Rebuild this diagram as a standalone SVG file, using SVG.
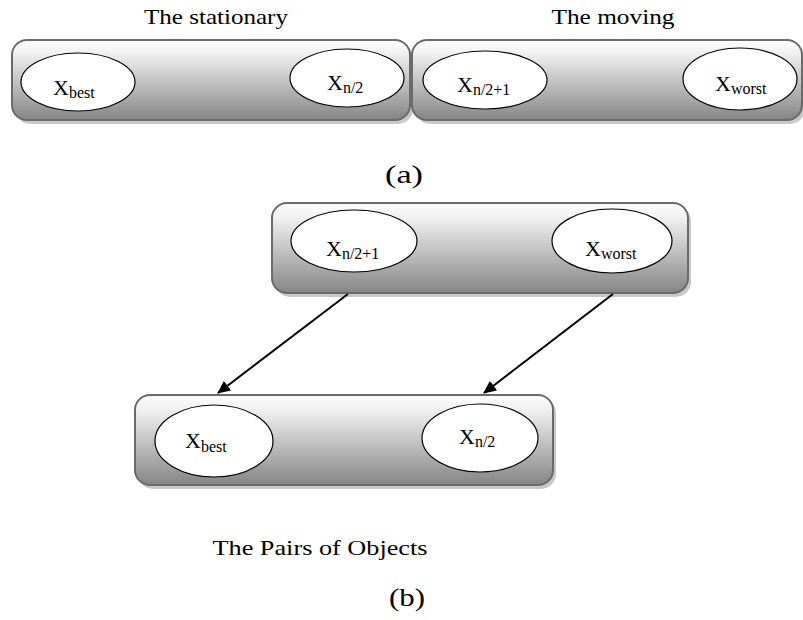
<svg xmlns="http://www.w3.org/2000/svg" width="803" height="620" viewBox="0 0 803 620">
<defs>
<linearGradient id="g" x1="0" y1="0" x2="0" y2="1">
<stop offset="0" stop-color="#fdfdfd"/>
<stop offset="0.15" stop-color="#f2f2f2"/>
<stop offset="1" stop-color="#858585"/>
</linearGradient>
<marker id="ah" markerWidth="13" markerHeight="12" refX="12" refY="6" orient="auto" markerUnits="userSpaceOnUse" viewBox="0 0 13 12">
<path d="M0,0 L13,6 L0,12 Z" fill="#000"/>
</marker>
</defs>
<style>
.box{fill:url(#g);stroke:#6a6a6a;stroke-width:2}
.sh{fill:#c8c8c8;stroke:none}
.el{fill:#fff;stroke:#000;stroke-width:1.2}
.t{font-family:"Liberation Serif",serif;fill:#000}
.x{font-size:22px}
.s{font-size:16px}
.cap{font-size:21px}
.edge{stroke:#000;stroke-width:2;fill:none;marker-end:url(#ah)}
</style>
<rect width="803" height="620" fill="#fff"/>
<text class="t cap" x="216" y="24" text-anchor="middle" textLength="144" lengthAdjust="spacingAndGlyphs">The stationary</text>
<text class="t cap" x="613" y="24" text-anchor="middle" textLength="123" lengthAdjust="spacingAndGlyphs">The moving</text>
<g id="a-stationary">
<rect class="sh" x="15" y="43" width="398" height="81" rx="15"/>
<rect class="box" x="12" y="40" width="398" height="80" rx="15"/>
<ellipse class="el" cx="78" cy="82" rx="57" ry="29"/>
<text class="t" x="53" y="95"><tspan class="x">X</tspan><tspan class="s" dy="3">best</tspan></text>
<ellipse class="el" cx="347" cy="78" rx="57" ry="29"/>
<text class="t" x="327" y="90"><tspan class="x">X</tspan><tspan class="s" dy="3">n/2</tspan></text>
</g>
<g id="a-moving">
<rect class="sh" x="415" y="43" width="390" height="81" rx="15"/>
<rect class="box" x="412" y="40" width="390" height="80" rx="15"/>
<ellipse class="el" cx="485" cy="80" rx="62" ry="29"/>
<text class="t" x="457" y="92"><tspan class="x">X</tspan><tspan class="s" dy="3">n/2+1</tspan></text>
<ellipse class="el" cx="740" cy="79" rx="57" ry="31"/>
<text class="t" x="715" y="91"><tspan class="x">X</tspan><tspan class="s" dy="3">worst</tspan></text>
</g>
<text class="t" x="404" y="183" text-anchor="middle" font-size="25" textLength="38" lengthAdjust="spacingAndGlyphs">(a)</text>
<g id="b-moving">
<rect class="sh" x="275" y="206" width="416" height="91" rx="15"/>
<rect class="box" x="272" y="203" width="416" height="90" rx="15"/>
<ellipse class="el" cx="354" cy="241" rx="63" ry="31"/>
<text class="t" x="326" y="256"><tspan class="x">X</tspan><tspan class="s" dy="3">n/2+1</tspan></text>
<ellipse class="el" cx="612" cy="241" rx="60" ry="32"/>
<text class="t" x="585" y="256"><tspan class="x">X</tspan><tspan class="s" dy="3">worst</tspan></text>
</g>
<g id="b-stationary">
<rect class="sh" x="138" y="398" width="418" height="91" rx="15"/>
<rect class="box" x="135" y="395" width="418" height="90" rx="15"/>
<ellipse class="el" cx="214" cy="441" rx="59" ry="36"/>
<text class="t" x="185" y="448"><tspan class="x">X</tspan><tspan class="s" dy="4">best</tspan></text>
<ellipse class="el" cx="480" cy="438" rx="58" ry="34"/>
<text class="t" x="459" y="444"><tspan class="x">X</tspan><tspan class="s" dy="3">n/2</tspan></text>
</g>
<g id="connectors">
<line class="edge" x1="348" y1="294" x2="218" y2="393"/>
<line class="edge" x1="613" y1="294" x2="484" y2="393"/>
</g>
<text class="t" x="320" y="555" text-anchor="middle" font-size="22" textLength="215" lengthAdjust="spacingAndGlyphs">The Pairs of Objects</text>
<text class="t" x="407" y="606" text-anchor="middle" font-size="25" textLength="36" lengthAdjust="spacingAndGlyphs">(b)</text>
</svg>
